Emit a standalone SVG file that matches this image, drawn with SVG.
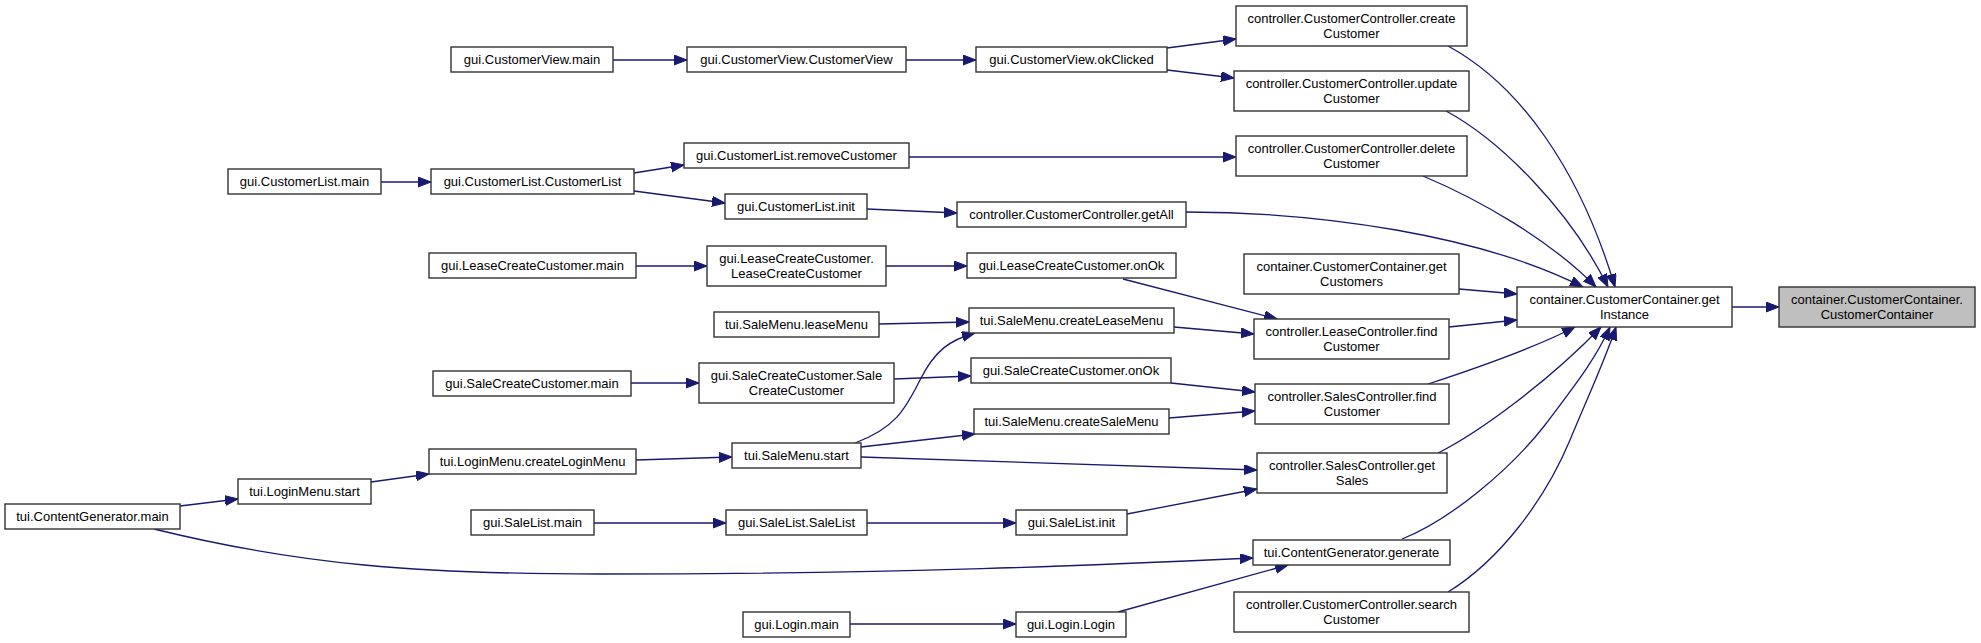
<svg xmlns="http://www.w3.org/2000/svg" width="1981" height="643" viewBox="0 0 1981 643">
<style>
.node rect{fill:#ffffff;stroke:#333333;stroke-width:1.4}
.node.target rect{fill:#bfbfbf}
.node text{font-family:"Liberation Sans",Arial,Helvetica,sans-serif;font-size:13px;fill:#000000;text-anchor:middle}
.edges path{fill:none;stroke:#191970;stroke-width:1.3;marker-end:url(#ah)}
</style>
<defs>
<marker id="ah" markerUnits="userSpaceOnUse" markerWidth="14" markerHeight="11" refX="13" refY="5" orient="auto">
<path d="M0,0 L13,5 L0,10 z" fill="#191970" stroke="#191970" stroke-width="1"/>
</marker>
</defs>
<rect width="1981" height="643" fill="#ffffff"/>
<g class="edges">
<path d="M613,60 L687,60"/>
<path d="M906,60 L976,60"/>
<path d="M1167,48 L1236,39"/>
<path d="M1167,70 L1234,78"/>
<path d="M381,182 L431,182"/>
<path d="M634,173 L684,165"/>
<path d="M634,191 L725,203"/>
<path d="M909,157 L1236,157"/>
<path d="M867,209 L957,213"/>
<path d="M1186,212 C1320,212 1480,235 1583,287"/>
<path d="M1123,279 L1277,319"/>
<path d="M636,266 L707,266"/>
<path d="M886,266 L967,266"/>
<path d="M879,324 L969,322"/>
<path d="M1174,327 L1254,334"/>
<path d="M631,383 L699,383"/>
<path d="M894,379 L971,376"/>
<path d="M1171,383 L1255,392"/>
<path d="M1169,418 L1255,411"/>
<path d="M855,443 C895,428 905,410 920,380 C935,350 950,340 975,333"/>
<path d="M861,447 L975,434"/>
<path d="M861,457 L1257,470"/>
<path d="M636,460 L732,457"/>
<path d="M371,482 L429,474"/>
<path d="M180,506 L238,499"/>
<path d="M154,529 C300,565 420,574 600,574 C900,574 1100,565 1253,558"/>
<path d="M594,523 L726,523"/>
<path d="M867,523 L1016,523"/>
<path d="M1127,514 L1257,489"/>
<path d="M850,624 L1016,624"/>
<path d="M1118,612 L1288,565"/>
<path d="M1448,46 C1520,85 1580,170 1615,287"/>
<path d="M1446,111 C1500,140 1570,210 1608,287"/>
<path d="M1423,176 C1480,200 1550,240 1596,287"/>
<path d="M1459,289 L1517,294"/>
<path d="M1449,327 L1517,320"/>
<path d="M1428,384 C1480,367 1540,345 1575,327"/>
<path d="M1438,453 C1480,432 1550,380 1601,327"/>
<path d="M1402,539 C1450,520 1510,470 1545,425 C1575,385 1595,360 1610,327"/>
<path d="M1448,592 C1500,560 1545,500 1570,440 C1590,392 1605,360 1616,327"/>
<path d="M1732,307 L1779,307"/>
</g>
<g id="n_cv_main" class="node"><rect x="451" y="47" width="162" height="25"/><text x="532" y="64">gui.CustomerView.main</text></g>
<g id="n_cv_cv" class="node"><rect x="687" y="47" width="219" height="25"/><text x="796.5" y="64">gui.CustomerView.CustomerView</text></g>
<g id="n_cv_ok" class="node"><rect x="976" y="47" width="191" height="25"/><text x="1071.5" y="64">gui.CustomerView.okClicked</text></g>
<g id="n_cc_create" class="node"><rect x="1236" y="6" width="231" height="40"/><text x="1351.5" y="23">controller.CustomerController.create</text><text x="1351.5" y="38">Customer</text></g>
<g id="n_cc_update" class="node"><rect x="1234" y="71" width="235" height="40"/><text x="1351.5" y="88">controller.CustomerController.update</text><text x="1351.5" y="103">Customer</text></g>
<g id="n_cc_delete" class="node"><rect x="1236" y="136" width="231" height="40"/><text x="1351.5" y="153">controller.CustomerController.delete</text><text x="1351.5" y="168">Customer</text></g>
<g id="n_cl_main" class="node"><rect x="228" y="169" width="153" height="25"/><text x="304.5" y="186">gui.CustomerList.main</text></g>
<g id="n_cl_cl" class="node"><rect x="431" y="169" width="203" height="25"/><text x="532.5" y="186">gui.CustomerList.CustomerList</text></g>
<g id="n_cl_remove" class="node"><rect x="684" y="143" width="225" height="25"/><text x="796.5" y="160">gui.CustomerList.removeCustomer</text></g>
<g id="n_cl_init" class="node"><rect x="725" y="194" width="142" height="25"/><text x="796" y="211">gui.CustomerList.init</text></g>
<g id="n_cc_getall" class="node"><rect x="957" y="202" width="229" height="25"/><text x="1071.5" y="219">controller.CustomerController.getAll</text></g>
<g id="n_cont_getcust" class="node"><rect x="1244" y="254" width="215" height="40"/><text x="1351.5" y="271">container.CustomerContainer.get</text><text x="1351.5" y="286">Customers</text></g>
<g id="n_lcc_main" class="node"><rect x="429" y="253" width="207" height="25"/><text x="532.5" y="270">gui.LeaseCreateCustomer.main</text></g>
<g id="n_lcc_lcc" class="node"><rect x="707" y="246" width="179" height="40"/><text x="796.5" y="263">gui.LeaseCreateCustomer.</text><text x="796.5" y="278">LeaseCreateCustomer</text></g>
<g id="n_lcc_ok" class="node"><rect x="967" y="253" width="209" height="25"/><text x="1071.5" y="270">gui.LeaseCreateCustomer.onOk</text></g>
<g id="n_sm_lease" class="node"><rect x="714" y="312" width="165" height="25"/><text x="796.5" y="329">tui.SaleMenu.leaseMenu</text></g>
<g id="n_sm_createlease" class="node"><rect x="969" y="308" width="205" height="25"/><text x="1071.5" y="325">tui.SaleMenu.createLeaseMenu</text></g>
<g id="n_lc_find" class="node"><rect x="1254" y="319" width="195" height="40"/><text x="1351.5" y="336">controller.LeaseController.find</text><text x="1351.5" y="351">Customer</text></g>
<g id="n_scc_main" class="node"><rect x="433" y="371" width="198" height="25"/><text x="532" y="388">gui.SaleCreateCustomer.main</text></g>
<g id="n_scc_scc" class="node"><rect x="699" y="363" width="195" height="40"/><text x="796.5" y="380">gui.SaleCreateCustomer.Sale</text><text x="796.5" y="395">CreateCustomer</text></g>
<g id="n_scc_ok" class="node"><rect x="971" y="358" width="200" height="25"/><text x="1071" y="375">gui.SaleCreateCustomer.onOk</text></g>
<g id="n_sm_createsale" class="node"><rect x="974" y="409" width="195" height="25"/><text x="1071.5" y="426">tui.SaleMenu.createSaleMenu</text></g>
<g id="n_sc_find" class="node"><rect x="1255" y="384" width="194" height="40"/><text x="1352" y="401">controller.SalesController.find</text><text x="1352" y="416">Customer</text></g>
<g id="n_lm_create" class="node"><rect x="429" y="449" width="207" height="25"/><text x="532.5" y="466">tui.LoginMenu.createLoginMenu</text></g>
<g id="n_sm_start" class="node"><rect x="732" y="443" width="129" height="25"/><text x="796.5" y="460">tui.SaleMenu.start</text></g>
<g id="n_sc_getsales" class="node"><rect x="1257" y="453" width="190" height="40"/><text x="1352" y="470">controller.SalesController.get</text><text x="1352" y="485">Sales</text></g>
<g id="n_lm_start" class="node"><rect x="238" y="479" width="133" height="25"/><text x="304.5" y="496">tui.LoginMenu.start</text></g>
<g id="n_cg_main" class="node"><rect x="5" y="504" width="175" height="25"/><text x="92.5" y="521">tui.ContentGenerator.main</text></g>
<g id="n_sl_main" class="node"><rect x="471" y="510" width="123" height="25"/><text x="532.5" y="527">gui.SaleList.main</text></g>
<g id="n_sl_sl" class="node"><rect x="726" y="510" width="141" height="25"/><text x="796.5" y="527">gui.SaleList.SaleList</text></g>
<g id="n_sl_init" class="node"><rect x="1016" y="510" width="111" height="25"/><text x="1071.5" y="527">gui.SaleList.init</text></g>
<g id="n_cg_generate" class="node"><rect x="1253" y="540" width="197" height="25"/><text x="1351.5" y="557">tui.ContentGenerator.generate</text></g>
<g id="n_login_main" class="node"><rect x="743" y="612" width="107" height="25"/><text x="796.5" y="629">gui.Login.main</text></g>
<g id="n_login_login" class="node"><rect x="1016" y="612" width="110" height="25"/><text x="1071" y="629">gui.Login.Login</text></g>
<g id="n_cc_search" class="node"><rect x="1234" y="592" width="235" height="40"/><text x="1351.5" y="609">controller.CustomerController.search</text><text x="1351.5" y="624">Customer</text></g>
<g id="n_getinstance" class="node"><rect x="1517" y="287" width="215" height="40"/><text x="1624.5" y="304">container.CustomerContainer.get</text><text x="1624.5" y="319">Instance</text></g>
<g id="n_target" class="node target"><rect x="1779" y="287" width="196" height="40"/><text x="1877" y="304">container.CustomerContainer.</text><text x="1877" y="319">CustomerContainer</text></g>
</svg>
